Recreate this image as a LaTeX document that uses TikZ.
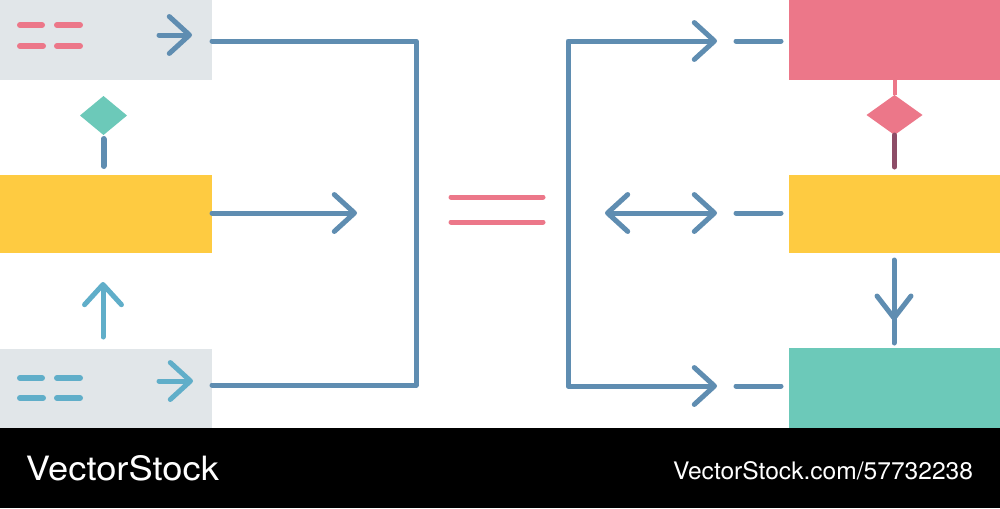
\documentclass[tikz,border=0pt]{standalone}
\usepackage{fontspec}
\newfontfamily\heros{TeX Gyre Heros}
\usetikzlibrary{arrows.meta,shapes.geometric}
\newlength{\px}\setlength{\px}{0.02cm}
\definecolor{flowblue}{HTML}{5F8DB1}
\definecolor{lightblue}{HTML}{60AEC9}
\definecolor{flowpink}{HTML}{EC7789}
\definecolor{flowgrey}{HTML}{E1E6E9}
\definecolor{flowyellow}{HTML}{FECB41}
\definecolor{flowgreen}{HTML}{6CC9B9}
\definecolor{darkstem}{HTML}{8D4D67}
\tikzset{
  box/.style={rectangle, inner sep=0pt, outer sep=0pt, minimum width=212\px},
  rbox/.style={rectangle, inner sep=0pt, outer sep=0pt, minimum width=211\px},
  gem/.style={diamond, inner sep=0pt, outer sep=0pt},
  bline/.style={draw=flowblue, line width=5\px, line cap=round, line join=round},
  lbline/.style={draw=lightblue, line width=5\px, line cap=round, line join=round},
  dashmark/.style={line width=6\px, line cap=round},
  head/.tip={Straight Barb[length=11.5pt, width=21pt, round]},
  bandtext/.style={anchor=base west, inner sep=0pt, outer sep=0pt, text=white}
}
\begin{document}
\begin{tikzpicture}[x=0.02cm, y=-0.02cm]
\useasboundingbox (0,0) rectangle (1000,508);
\fill[white] (0,0) rectangle (1000,428);
\fill[black] (0,428) rectangle (1000,508);

% left column
\node[box, fill=flowgrey, minimum height=80\px] (tl) at (106,40) {};
\node[box, fill=flowyellow, minimum height=78\px] (ml) at (106,214) {};
\node[box, fill=flowgrey, minimum height=79\px] (bl) at (106,388.5) {};
\node[gem, fill=flowgreen, minimum width=47\px, minimum height=39\px] (gd) at (103.5,115.5) {};

% right column
\node[rbox, fill=flowpink, minimum height=80\px] (tr) at (894.5,40) {};
\node[rbox, fill=flowyellow, minimum height=78\px] (mr) at (894.5,214) {};
\node[rbox, fill=flowgreen, minimum height=80\px] (br) at (894.5,388) {};
\node[gem, fill=flowpink, minimum width=56\px, minimum height=40\px] (pd) at (894.5,115) {};

% dashes in left boxes
\draw[flowpink, dashmark] (20,25) -- (42,25) (57,25) -- (80,25)
                          (20,46) -- (43,46) (57,46) -- (80,46);
\draw[lightblue, dashmark] (20,378) -- (42,378) (57,378) -- (80,378)
                           (20,398) -- (43,398) (57,398) -- (80,398);

% arrows inside left boxes
\draw[bline, -{head}] (159,35) -- (192,35);
\draw[lbline, -{head}] (159,381) -- (193,381);

% left vertical connectors
\draw[flowblue, line width=6\px, line cap=round] ([yshift=-4\px]gd.south) -- ([yshift=9\px]gd.south |- ml.north);
\draw[lbline, -{head}] ([xshift=-3\px,yshift=12\px]bl.north) -- ([xshift=-3\px,yshift=-29\px]ml.south);

% left bracket and middle arrow
\coordinate (lbr1) at (416,41);
\coordinate (lbr2) at (416,385);
\draw[bline] ([yshift=-1\px]tl.east) -- (lbr1) -- (lbr2) -- ([yshift=3.5\px]bl.east);
\coordinate (mtip) at (357,213);
\draw[bline, -{head}] ([yshift=1\px]ml.east) -- (mtip);

% equals sign
\draw[flowpink, line width=5\px, line cap=round] (451,197) -- (543,197) (451,222) -- (543,222);

% right bracket
\coordinate (rtip1) at (717,41);
\coordinate (rbr1) at (568,41);
\coordinate (rbr2) at (568,386);
\coordinate (rtip3) at (717,386);
\draw[bline, {head}-{head}] (rtip1) -- (rbr1) -- (rbr2) -- (rtip3);
\coordinate (dl) at (605,213);
\coordinate (dr) at (717,213);
\draw[bline, {head}-{head}] (dl) -- (dr);

% short dashes before right boxes
\draw[flowblue, line width=5\px, line cap=round]
  ([xshift=-53\px,yshift=-1\px]tr.west) -- ([xshift=-8\px,yshift=-1\px]tr.west)
  ([xshift=-53\px,yshift=1\px]mr.west) -- ([xshift=-8\px,yshift=1\px]mr.west)
  ([xshift=-53\px,yshift=2\px]br.west) -- ([xshift=-8\px,yshift=2\px]br.west);

% right vertical connectors
\draw[flowpink, line width=4\px] (tr.south) -- (pd.north);
\draw[darkstem, line width=5\px, line cap=round] (pd.south) -- ([yshift=8\px]mr.north);
\draw[bline] ([xshift=-0.5\px,yshift=-7\px]mr.south) -- ([xshift=-0.5\px,yshift=5\px]br.north);
\draw[bline] (877,296) -- (894,318) -- (911,296);

% bottom band text
\node[bandtext] at (26,480) {\resizebox{193\px}{25\px}{\heros VectorStock}};
\node[bandtext] at (673,479) {\resizebox{300\px}{18\px}{\heros VectorStock.com/57732238}};
\end{tikzpicture}
\end{document}
